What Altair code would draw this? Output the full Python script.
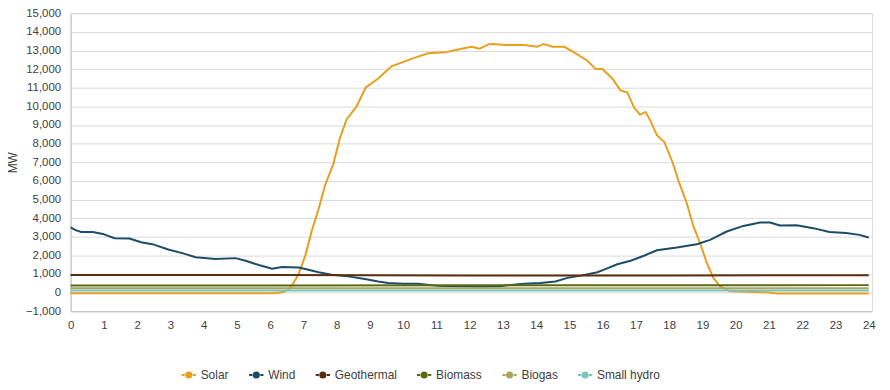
import altair as alt
import pandas as pd

series = ["Solar", "Wind", "Geothermal", "Biomass", "Biogas", "Small hydro"]
colors = ["#E99F1E", "#1D4C66", "#5A2C0C", "#5C6914", "#A6A85C", "#7DC3BF"]

solar_h = [0, 3, 6, 6.2, 6.4, 6.55, 6.7, 6.86, 7.06, 7.25, 7.46, 7.66, 7.9, 8.1, 8.3, 8.6,
           8.87, 9.25, 9.65, 10.25, 10.75, 11.25, 11.65, 12.05, 12.3, 12.6, 13.14, 13.64,
           14.04, 14.22, 14.5, 14.84, 15.14, 15.54, 15.79, 15.99, 16.29, 16.54, 16.74,
           16.94, 17.12, 17.29, 17.43, 17.63, 17.85, 18.1, 18.28, 18.53, 18.73, 18.93,
           19.13, 19.33, 19.53, 19.83, 20.83, 21.0, 21.23, 24]
solar_mw = [-30, -30, -30, -20, 30, 150, 500, 1000, 2000, 3300, 4500, 5800, 6900, 8300, 9300, 10000,
            11000, 11500, 12150, 12550, 12850, 12900, 13050, 13200, 13100, 13350, 13300, 13300,
            13200, 13350, 13200, 13200, 12900, 12450, 12000, 12000, 11500, 10850, 10750,
            9950, 9550, 9700, 9250, 8450, 8100, 7000, 6000, 4800, 3550, 2650,
            1600, 790, 340, 70, 20, 0, -50, -50]

wind_h = [0, 0.15, 0.32, 0.67, 0.97, 1.32, 1.77, 2.12, 2.46, 2.96, 3.36, 3.76, 4.36, 4.96,
          5.26, 5.66, 6.06, 6.36, 6.86, 7.06, 7.46, 7.85, 8.35, 8.85, 9.25, 9.55, 10.0, 10.45,
          11.05, 11.65, 12.3, 12.9, 13.14, 13.64, 14.13, 14.58, 14.94, 15.34, 15.84, 16.04,
          16.44, 16.84, 17.24, 17.63, 18.23, 18.83, 19.23, 19.73, 20.23, 20.73, 21.03, 21.33,
          21.83, 22.33, 22.82, 23.32, 23.72, 24]
wind_mw = [3500, 3350, 3250, 3250, 3150, 2920, 2900, 2700, 2600, 2300, 2120, 1900, 1800, 1850,
           1710, 1480, 1280, 1370, 1350, 1270, 1090, 960, 870, 730, 600, 520, 480, 470,
           360, 340, 330, 340, 390, 480, 520, 600, 790, 910, 1090, 1230,
           1520, 1710, 1980, 2270, 2420, 2600, 2830, 3280, 3580, 3760, 3760, 3600,
           3620, 3460, 3250, 3200, 3100, 2960]

flat_h = [0, 6, 12, 18, 24]
geo_mw = [950, 950, 920, 920, 930]
biomass_mw = [380, 385, 390, 395, 400]
biogas_mw = [230, 230, 230, 230, 230]
hydro_mw = [110, 110, 110, 110, 110]

x_ticks = list(range(0, 25))
y_ticks = list(range(-1000, 15001, 1000))

rows = []
for name, hs, vs in [("Solar", solar_h, solar_mw), ("Wind", wind_h, wind_mw),
                     ("Geothermal", flat_h, geo_mw), ("Biomass", flat_h, biomass_mw),
                     ("Biogas", flat_h, biogas_mw), ("Small hydro", flat_h, hydro_mw)]:
    for h, v in zip(hs, vs):
        rows.append({"series": name, "hour": h, "mw": v})
df = pd.DataFrame(rows)

sym = "M-1.8,0L-1.0,0M1.0,0L1.8,0M0.65,0A0.65,0.65,0,1,1,-0.65,0A0.65,0.65,0,1,1,0.65,0Z"
legend = alt.Legend(
    title=None, orient="none", direction="horizontal", legendX=113, legendY=358,
    symbolType=sym, symbolSize=64, symbolStrokeWidth=2, labelOffset=6,
    columnPadding=15, labelFontSize=12, labelColor="#404040", labelFont="Liberation Sans",
    padding=0,
)

xs = alt.X("hour:Q", scale=alt.Scale(domain=[0, 24.1], nice=False, zero=False),
           axis=alt.Axis(values=x_ticks, format="d", title=None, grid=False, ticks=False,
                         labelPadding=8, domainColor="#BFBFBF", labelFontSize=11.5,
                         labelColor="#404040", labelFont="Liberation Sans", labelFlush=False))
ys = alt.Y("mw:Q", scale=alt.Scale(domain=[-1000, 15000], nice=False),
           axis=alt.Axis(values=y_ticks, format=",.0f", title="MW", ticks=False, labelPadding=10,
                         gridColor="#D9D9D9", domainColor="#BFBFBF", labelFontSize=11.5,
                         labelColor="#404040", labelFont="Liberation Sans",
                         titleFont="Liberation Sans", titleFontSize=12, titleFontWeight="normal",
                         titleColor="#404040", titlePadding=6))

lines = alt.Chart(df).mark_line(strokeWidth=2).encode(
    x=xs, y=ys,
    stroke=alt.Stroke("series:N", scale=alt.Scale(domain=series, range=colors), legend=legend),
    order=alt.Order("hour:Q"),
)

pts = alt.Chart(df).transform_filter("datum.hour < -100").mark_point(filled=True, opacity=1).encode(
    x=xs, y=ys,
    fill=alt.Fill("series:N", scale=alt.Scale(domain=series, range=colors), legend=legend),
)

chart = alt.layer(lines, pts).properties(
    width=807, height=300,
    autosize=alt.AutoSizeParams(type="none"),
    padding={"left": 63, "top": 4, "right": 10, "bottom": 70},
).configure_view(stroke="#D9D9D9").configure(background="white")

chart.save("out.html", embed_options={"renderer": "svg", "actions": False})
